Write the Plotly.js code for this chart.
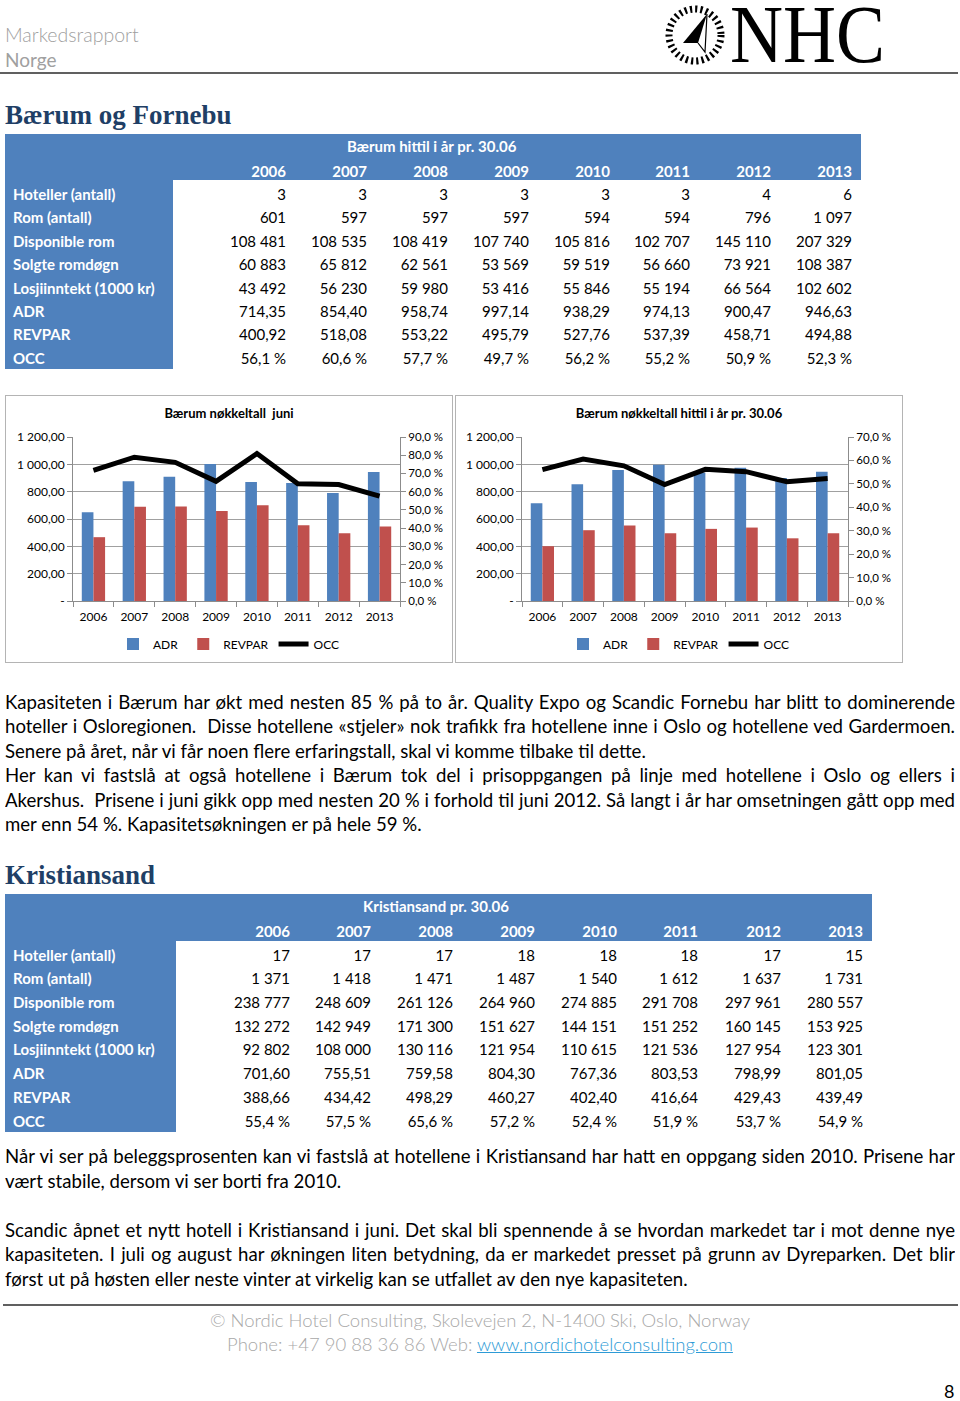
<!DOCTYPE html>
<html><head><meta charset="utf-8">
<script src="https://cdn.plot.ly/plotly-3.0.1.min.js"></script>
<style>
body{margin:0;background:#fff;}
#page{position:relative;width:960px;height:1401px;overflow:hidden;font-family:Lato,sans-serif;background:#fff;}
.abs{position:absolute;}
.line{position:absolute;left:5px;width:950px;white-space:nowrap;font-size:18.6px;line-height:24px;color:#000;overflow:hidden;}
.j{text-align:justify;text-align-last:justify;}
.h2{position:absolute;left:5px;font-family:'Liberation Serif',serif;font-weight:bold;font-size:27px;line-height:32px;color:#1F3F66;}
.box{position:absolute;border:1px solid #B4B4B4;box-sizing:border-box;background:#fff;}
.hdr{position:absolute;left:5px;font-size:19.5px;line-height:22px;color:#A0A0A0;}
.foot{position:absolute;left:0;width:960px;text-align:center;font-size:18.5px;line-height:22px;color:#A8A8A8;font-weight:300;}
</style></head>
<body>
<div id="page">
  <div class="hdr" style="top:24px;font-weight:300;">Markedsrapport</div>
  <div class="hdr" style="top:49px;font-size:19px;">Norge</div>
  <svg class="abs" style="left:660px;top:0px;" width="300" height="75" viewBox="0 0 300 75">
    <circle cx="35" cy="35" r="26" fill="none" stroke="#000" stroke-width="7" stroke-dasharray="2.2 3.1"/>
    <polygon points="47,14 23,43 38,43" fill="#000"/>
    <polyline points="47,14 45,52 38,43" fill="none" stroke="#000" stroke-width="1.2"/>
    <text x="70" y="62" font-family="Liberation Serif, serif" font-size="82" textLength="155" lengthAdjust="spacingAndGlyphs" fill="#000">NHC</text>
  </svg>
  <div class="abs" style="left:0;top:72px;width:958px;height:2px;background:#606060;"></div>

  <div class="h2" style="top:99px;">Bærum og Fornebu</div>
  <div id="tab1" class="abs" style="left:0;top:134px;width:960px;height:238px;"></div>

  <div class="box" style="left:5px;top:395px;width:448px;height:268px;"><div id="chart1"></div></div>
  <div class="box" style="left:455px;top:395px;width:448px;height:268px;"><div id="chart2"></div></div>

  <div class="line j" style="top:690px;">Kapasiteten i Bærum har økt med nesten 85 % på to år. Quality Expo og Scandic Fornebu har blitt to dominerende</div>
  <div class="line j" style="top:714px;">hoteller i Osloregionen.&nbsp; Disse hotellene «stjeler» nok trafikk fra hotellene inne i Oslo og hotellene ved Gardermoen.</div>
  <div class="line" style="top:739px;">Senere på året, når vi får noen flere erfaringstall, skal vi komme tilbake til dette.</div>
  <div class="line j" style="top:763px;">Her kan vi fastslå at også hotellene i Bærum tok del i prisoppgangen på linje med hotellene i Oslo og ellers i</div>
  <div class="line j" style="top:788px;">Akershus.&nbsp; Prisene i juni gikk opp med nesten 20 % i forhold til juni 2012. Så langt i år har omsetningen gått opp med</div>
  <div class="line" style="top:812px;">mer enn 54 %. Kapasitetsøkningen er på hele 59 %.</div>

  <div class="h2" style="top:859px;">Kristiansand</div>
  <div id="tab2" class="abs" style="left:0;top:894px;width:960px;height:240px;"></div>

  <div class="line j" style="top:1144px;">Når vi ser på beleggsprosenten kan vi fastslå at hotellene i Kristiansand har hatt en oppgang siden 2010. Prisene har</div>
  <div class="line" style="top:1169px;">vært stabile, dersom vi ser borti fra 2010.</div>
  <div class="line j" style="top:1218px;">Scandic åpnet et nytt hotell i Kristiansand i juni. Det skal bli spennende å se hvordan markedet tar i mot denne nye</div>
  <div class="line j" style="top:1242px;">kapasiteten. I juli og august har økningen liten betydning, da er markedet presset på grunn av Dyreparken. Det blir</div>
  <div class="line" style="top:1267px;">først ut på høsten eller neste vinter at virkelig kan se utfallet av den nye kapasiteten.</div>

  <div class="abs" style="left:3px;top:1304px;width:955px;height:2px;background:#606060;"></div>
  <div class="foot" style="top:1309px;">© Nordic Hotel Consulting, Skolevejen 2, N-1400 Ski, Oslo, Norway</div>
  <div class="foot" style="top:1333px;">Phone: +47 90 88 36 86 Web: <span style="color:#2E9BD6;text-decoration:underline;">www.nordichotelconsulting.com</span></div>
  <div class="abs" style="left:944px;top:1380px;font-size:18px;line-height:22px;color:#000;">8</div>
</div>
<script>
// ---------- DATA ----------
const years = ['2006','2007','2008','2009','2010','2011','2012','2013'];
const rowLabels = ['Hoteller (antall)','Rom (antall)','Disponible rom','Solgte romdøgn','Losjiinntekt (1000 kr)','ADR','REVPAR','OCC'];

// Bærum hittil i år pr. 30.06
const baerumTitle = 'Bærum hittil i år pr. 30.06';
const baerumHotels = [3,3,3,3,3,3,4,6];
const baerumRooms = [601,597,597,597,594,594,796,1097];
const baerumAvailable = [108481,108535,108419,107740,105816,102707,145110,207329];
const baerumSold = [60883,65812,62561,53569,59519,56660,73921,108387];
const baerumRevenue = [43492,56230,59980,53416,55846,55194,66564,102602];
const baerumADR = [714.35,854.40,958.74,997.14,938.29,974.13,900.47,946.63];
const baerumREVPAR = [400.92,518.08,553.22,495.79,527.76,537.39,458.71,494.88];
const baerumOCC = [56.1,60.6,57.7,49.7,56.2,55.2,50.9,52.3];

// Bærum nøkkeltall juni
const juneADR = [650,876,910,1002,871,864,791,944];
const juneREVPAR = [467,689,691,659,701,555,496,545];
const juneOCC = [71.7,78.9,76.1,65.7,80.9,64.4,63.9,57.5];

// Kristiansand pr. 30.06
const krsTitle = 'Kristiansand pr. 30.06';
const krsHotels = [17,17,17,18,18,18,17,15];
const krsRooms = [1371,1418,1471,1487,1540,1612,1637,1731];
const krsAvailable = [238777,248609,261126,264960,274885,291708,297961,280557];
const krsSold = [132272,142949,171300,151627,144151,151252,160145,153925];
const krsRevenue = [92802,108000,130116,121954,110615,121536,127954,123301];
const krsADR = [701.60,755.51,759.58,804.30,767.36,803.53,798.99,801.05];
const krsREVPAR = [388.66,434.42,498.29,460.27,402.40,416.64,429.43,439.49];
const krsOCC = [55.4,57.5,65.6,57.2,52.4,51.9,53.7,54.9];

// axis ticks
const leftTickVals = [0,200,400,600,800,1000,1200];
const leftTickText = ['-','200,00','400,00','600,00','800,00','1 000,00','1 200,00'];
const occTickVals1 = [0,10,20,30,40,50,60,70,80,90];
const occTickText1 = ['0,0 %','10,0 %','20,0 %','30,0 %','40,0 %','50,0 %','60,0 %','70,0 %','80,0 %','90,0 %'];
const occTickVals2 = [0,10,20,30,40,50,60,70];
const occTickText2 = ['0,0 %','10,0 %','20,0 %','30,0 %','40,0 %','50,0 %','60,0 %','70,0 %'];
const seriesNames = ['ADR','REVPAR','OCC'];
const chart1Title = 'Bærum nøkkeltall  juni';
const chart2Title = 'Bærum nøkkeltall hittil i år pr. 30.06';

// ---------- HELPERS ----------
const NB = '\u00A0';
const BLUE = '#4F81BD';
const FONT = 'Lato, sans-serif';
function grp(n){ return String(n).replace(/\B(?=(\d{3})+(?!\d))/g, NB); }
function dec2(v){ const s = v.toFixed(2).split('.'); return grp(s[0]) + ',' + s[1]; }
function pct(v){ return v.toFixed(1).replace('.', ',') + NB + '%'; }

// shrink a justified line slightly if it would overflow its box
document.querySelectorAll('.line').forEach(el => {
  let fs = 18.6;
  while (el.scrollWidth > el.clientWidth + 0.5 && fs > 15) {
    fs -= 0.1;
    el.style.fontSize = fs.toFixed(1) + 'px';
  }
});

function makeTable(id, title, titleCenterX, rows, labelW, colW, left, rowH){
  const H = rowH * 10;
  const labelCol = [NB].concat(rowLabels.map(s => s.replace(/ /g, NB)));
  const values = [labelCol];
  years.forEach((yr, j) => {
    const col = [yr];
    rows.forEach(r => col.push(r[1](r[0][j])));
    values.push(col);
  });
  const fillLabel = Array(9).fill(BLUE);
  const fillData = [BLUE].concat(Array(8).fill('#FFFFFF'));
  const fills = [fillLabel].concat(years.map(() => fillData));
  const fcLabel = Array(9).fill('#FFFFFF');
  const fcData = ['#FFFFFF'].concat(Array(8).fill('#000000'));
  const fcols = [fcLabel].concat(years.map(() => fcData));
  const wLabel = Array(9).fill('bold');
  const wData = ['bold'].concat(Array(8).fill('normal'));
  const weights = [wLabel].concat(years.map(() => wData));
  const widths = [labelW].concat(colW);
  const total = widths.reduce((a, b) => a + b, 0);
  const trace = {
    type: 'table',
    domain: {x: [left / 960, (left + total) / 960], y: [0, 1]},
    columnwidth: widths,
    header: {
      values: widths.map(() => ['']),
      height: rowH,
      fill: {color: BLUE},
      line: {color: BLUE, width: 1},
      font: {family: FONT, size: 15, color: '#FFFFFF'}
    },
    cells: {
      values: values,
      height: rowH,
      align: ['left'].concat(years.map(() => 'right')),
      fill: {color: fills},
      line: {color: fills, width: 1},
      font: {family: FONT, size: 15, color: fcols, weight: weights}
    }
  };
  const layout = {
    width: 960, height: H + 4, margin: {l: 0, r: 0, t: 0, b: 0},
    paper_bgcolor: 'rgba(0,0,0,0)',
    annotations: [{
      text: '<b>' + title + '</b>', xref: 'paper', yref: 'paper',
      x: titleCenterX / 960, y: 1 - (rowH / 2 + 0.5) / (H + 4), xanchor: 'center', yanchor: 'middle',
      showarrow: false, font: {family: FONT, size: 15, color: '#FFFFFF'}
    }]
  };
  Plotly.newPlot(id, [trace], layout, {displayModeBar: false, staticPlot: true});
}

function makeChart(id, title, adr, revpar, occ, occMax, occVals, occText, ml, mr){
  const axisGray = '#8C8C8C';
  const data = [
    {type: 'bar', x: years, y: adr, name: seriesNames[0], marker: {color: '#4F81BD'}},
    {type: 'bar', x: years, y: revpar, name: seriesNames[1], marker: {color: '#C0504D'}},
    {type: 'scatter', mode: 'lines', x: years, y: occ, name: seriesNames[2], yaxis: 'y2',
     line: {color: '#000000', width: 5}}
  ];
  const layout = {
    width: 446, height: 266,
    margin: {l: ml, r: mr, t: 41, b: 61},
    paper_bgcolor: '#FFFFFF', plot_bgcolor: '#FFFFFF',
    font: {family: FONT, size: 12, color: '#000000'},
    title: {text: '<b>' + title + '</b>', font: {family: FONT, size: 13, color: '#000000'},
            xref: 'container', x: 0.5, xanchor: 'center', yref: 'container', y: 1 - 17 / 266, yanchor: 'middle'},
    barmode: 'group', bargap: 0.43, bargroupgap: 0,
    xaxis: {type: 'category', showline: true, linecolor: axisGray, ticks: 'outside', ticklen: 5,
            tickcolor: axisGray, tickson: 'boundaries', showgrid: false, zeroline: false,
            tickfont: {size: 12}, ticklabelstandoff: 5, automargin: false},
    yaxis: {range: [0, 1200], tickvals: leftTickVals, ticktext: leftTickText, showgrid: true,
            gridcolor: '#A0A0A0', gridwidth: 1, showline: true, linecolor: axisGray, ticks: 'outside',
            ticklen: 5, tickcolor: axisGray, zeroline: false, automargin: false},
    yaxis2: {overlaying: 'y', side: 'right', range: [0, occMax], tickvals: occVals, ticktext: occText,
             showgrid: false, showline: true, linecolor: axisGray, ticks: 'outside', ticklen: 5,
             tickcolor: axisGray, zeroline: false, automargin: false, tickfont: {size: 11.5}},
    showlegend: true,
    legend: {orientation: 'h', xref: 'container', x: 0.5, xanchor: 'center',
             yref: 'container', y: 1 - 248 / 266, yanchor: 'middle',
             font: {size: 12}, itemwidth: 30, traceorder: 'normal', bgcolor: 'rgba(0,0,0,0)'}
  };
  Plotly.newPlot(id, data, layout, {displayModeBar: false, staticPlot: true});
}

// ---------- DRAW ----------
makeTable('tab1', baerumTitle, 432, [
  [baerumHotels, grp], [baerumRooms, grp], [baerumAvailable, grp], [baerumSold, grp],
  [baerumRevenue, grp], [baerumADR, dec2], [baerumREVPAR, dec2], [baerumOCC, pct]
], 168, [121,81,81,81,81,80,81,81], 5, 23.4);

makeTable('tab2', krsTitle, 436, [
  [krsHotels, grp], [krsRooms, grp], [krsAvailable, grp], [krsSold, grp],
  [krsRevenue, grp], [krsADR, dec2], [krsREVPAR, dec2], [krsOCC, pct]
], 171, [122,81,82,82,82,81,83,82], 5, 23.7);

makeChart('chart1', chart1Title, juneADR, juneREVPAR, juneOCC, 90, occTickVals1, occTickText1, 67, 52);
makeChart('chart2', chart2Title, baerumADR, baerumREVPAR, baerumOCC, 70, occTickVals2, occTickText2, 66, 54);
</script>
</body></html>
